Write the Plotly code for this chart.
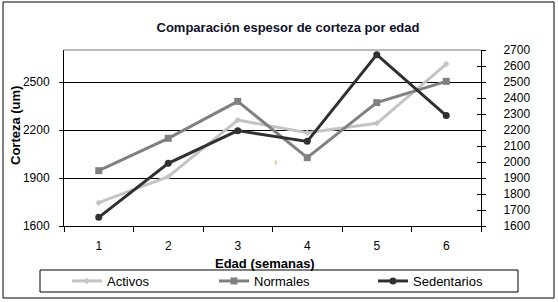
import plotly.graph_objects as go

edad = [1, 2, 3, 4, 5, 6]
activos = [1746, 1908, 2262, 2183, 2242, 2612]
normales = [1946, 2148, 2379, 2027, 2371, 2504]
sedentarios = [1654, 1992, 2196, 2129, 2671, 2290]
left_ticks = [1600, 1900, 2200, 2500]
right_ticks = list(range(1600, 2701, 100))

FONT = "Liberation Sans, Arial, sans-serif"

W, H = 558, 302
L, R, T, B = 64, 77, 50, 76
PW, PH = W - L - R, H - T - B


def px(x):
    return (x - L) / PW


def py(y):
    return (H - B - y) / PH


fig = go.Figure()
fig.add_trace(go.Scatter(x=edad, y=activos, name="Activos", mode="lines+markers",
                         line=dict(color="#c4c4c4", width=3), legend="legend",
                         marker=dict(symbol="diamond", size=5, color="#c4c4c4")))
fig.add_trace(go.Scatter(x=edad, y=normales, name="Normales", mode="lines+markers",
                         line=dict(color="#808080", width=3), legend="legend2",
                         marker=dict(symbol="square", size=7, color="#808080")))
fig.add_trace(go.Scatter(x=edad, y=sedentarios, name="Sedentarios", mode="lines+markers",
                         line=dict(color="#303030", width=3), legend="legend3",
                         marker=dict(symbol="circle", size=7, color="#303030")))
fig.add_trace(go.Scatter(x=[1], y=[1600], yaxis="y2", showlegend=False, mode="markers",
                         marker=dict(opacity=0), hoverinfo="skip"))
fig.add_trace(go.Scatter(x=[1], y=[1600], yaxis="y3", showlegend=False, mode="markers",
                         marker=dict(opacity=0), hoverinfo="skip"))

leg_common = dict(orientation="h", xanchor="left", yanchor="middle", y=py(281),
                  borderwidth=0, bgcolor="rgba(0,0,0,0)", font=dict(size=13),
                  itemwidth=30)

fig.update_layout(
    width=W, height=H,
    margin=dict(l=L, r=R, t=T, b=B, autoexpand=False),
    paper_bgcolor="white", plot_bgcolor="white",
    font=dict(family=FONT, size=11, color="#000000"),
    title=dict(text="<b>Comparación espesor de corteza por edad</b>",
               xref="container", yref="container",
               x=288 / W, xanchor="center", y=1 - 27 / H, yanchor="middle",
               font=dict(family=FONT, size=13, color="#10102a")),
    xaxis=dict(range=[0.5, 6.5], tickvals=edad, ticktext=[str(e) for e in edad],
               ticks="", showgrid=False, zeroline=False, automargin=False,
               showline=True, linecolor="black", linewidth=1,
               tickfont=dict(size=12), ticklabelstandoff=9,
               minor=dict(tickvals=[0.5, 1.5, 2.5, 3.5, 4.5, 5.5, 6.5], ticks="outside",
                          ticklen=5, tickcolor="black", showgrid=False)),
    yaxis=dict(range=[1600, 2700], tickvals=left_ticks, ticks="outside", ticklen=4,
               tickcolor="black", showgrid=True, gridcolor="black", gridwidth=1,
               zeroline=False, showline=True, linecolor="black", linewidth=1,
               automargin=False, tickfont=dict(size=12), ticklabelstandoff=7),
    yaxis2=dict(range=[1600, 2700], tickvals=right_ticks, overlaying="y", side="right",
                ticks="outside", ticklen=4, tickcolor="black", showgrid=False,
                zeroline=False, showline=True, linecolor="black", linewidth=1,
                automargin=False, tickfont=dict(size=12), ticklabelstandoff=15),
    yaxis3=dict(range=[1600, 2700], tickvals=right_ticks, overlaying="y", side="right",
                ticks="inside", ticklen=4, tickcolor="black", showgrid=False,
                showticklabels=False, zeroline=False, showline=False, automargin=False),
    legend=dict(x=px(67), **leg_common),
    legend2=dict(x=px(214), **leg_common),
    legend3=dict(x=px(373), **leg_common),
    showlegend=True,
)

# top border of plot area
fig.add_shape(type="line", xref="paper", yref="paper", x0=0, x1=1, y0=1, y1=1,
              line=dict(color="#7a7a7a", width=1))
# outer frame
fig.add_shape(type="rect", xref="paper", yref="paper",
              x0=px(3), x1=px(554), y0=py(298), y1=py(2),
              line=dict(color="black", width=1))
# legend frame
fig.add_shape(type="rect", xref="paper", yref="paper",
              x0=px(40), x1=px(518), y0=py(292), y1=py(270),
              line=dict(color="black", width=1))
fig.add_annotation(xref="paper", yref="paper", x=px(265), y=py(263),
                   text="<b>Edad (semanas)</b>", showarrow=False,
                   font=dict(size=13), xanchor="center", yanchor="middle")
fig.add_annotation(xref="paper", yref="paper", x=px(16), y=py(126),
                   text="<b>Corteza (um)</b>", showarrow=False, textangle=-90,
                   font=dict(size=13), xanchor="center", yanchor="middle")
fig.add_annotation(x=3.55, y=2000, text="i", showarrow=False,
                   font=dict(size=8, color="#d08030"))

fig.write_html("out.html", config={"displayModeBar": False},
               post_script="document.body.style.margin='0';document.body.style.overflow='hidden';")
